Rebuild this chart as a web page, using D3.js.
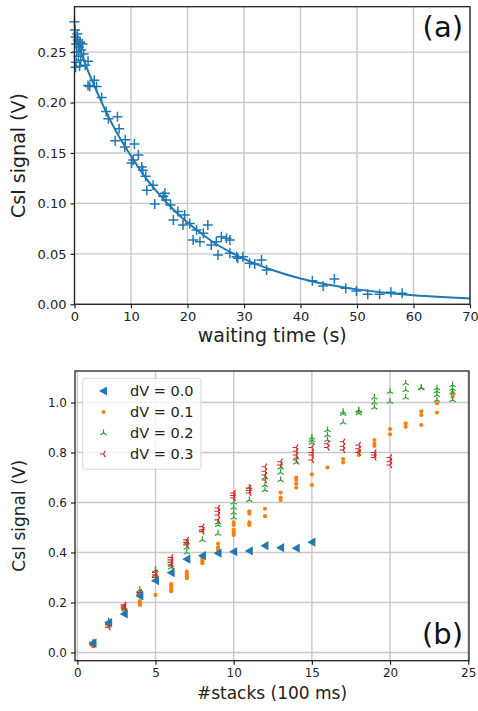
<!DOCTYPE html>
<html>
<head>
<meta charset="utf-8">
<script src="https://cdn.jsdelivr.net/npm/d3@7"></script>
<style>
  body { margin: 0; background: #fff; }
  svg { font-family: "DejaVu Sans", sans-serif; }
</style>
</head>
<body>
<script>
// ---- panel (a): decay of the CsI signal with waiting time ----
const waitTime = [0.0, 0.1, 0.2, 0.3, 0.5, 0.6, 0.4, 0.8, 1.0, 0.7, 1.2, 1.4, 0.3, 0.9, 1.1, 1.6, 0.2, 1.0,
  2.4, 1.9, 2.7, 3.5, 3.9, 2.4, 4.8, 5.6, 6.0, 7.6, 7.9, 7.2, 9.0, 10.6, 8.9, 11.3, 10.1, 10.4,
  11.9, 12.1, 12.6, 12.8, 13.9, 14.2, 15.7, 16.0, 16.2, 17.0, 17.5, 18.3, 19.5, 19.2, 20.4, 21.0,
  21.6, 22.2, 22.8, 23.6, 24.2, 25.4, 25.1, 26.0, 26.9, 27.5, 27.5, 28.7, 28.9, 29.8, 31.0, 31.9,
  33.1, 34.0, 42.1, 44.0, 46.0, 48.0, 49.9, 51.9, 54.0, 56.0, 58.0];
const waitSignal = [0.280, 0.272, 0.265, 0.258, 0.268, 0.262, 0.250, 0.255, 0.260, 0.246, 0.252, 0.258, 0.240, 0.236, 0.242, 0.248, 0.235, 0.259,
  0.241, 0.237, 0.216, 0.222, 0.216, 0.217, 0.205, 0.191, 0.184, 0.186, 0.174, 0.162, 0.163, 0.159, 0.156, 0.148, 0.140, 0.143,
  0.136, 0.133, 0.127, 0.113, 0.118, 0.0995, 0.107, 0.110, 0.1035, 0.0985, 0.0836, 0.092, 0.0886, 0.0787, 0.080, 0.0638,
  0.0737, 0.0621, 0.0704, 0.0787, 0.0588, 0.0489, 0.062, 0.067, 0.0655, 0.0506, 0.0638, 0.0472, 0.0456, 0.0472, 0.0407, 0.040,
  0.044, 0.034, 0.0234, 0.0182, 0.0251, 0.0159, 0.0132, 0.0099, 0.0099, 0.0119, 0.0109];

// fitted curve
const fitTime = [0, 2.5, 5, 7.5, 10, 12.5, 15, 17.5, 20, 22.5, 25, 27.5, 30, 35, 40, 45, 50, 55, 60, 65, 70];
const fitSignal = [0.267, 0.230, 0.198, 0.170, 0.147, 0.126, 0.109, 0.094, 0.081, 0.070, 0.060, 0.052, 0.045,
  0.034, 0.0255, 0.0193, 0.0148, 0.0115, 0.0090, 0.0072, 0.0058];

const xTicksA = [0, 10, 20, 30, 40, 50, 60, 70];
const yTicksA = [0, 0.05, 0.10, 0.15, 0.20, 0.25];

// ---- panel (b): signal vs number of stacks ----
const stacks = [1, 2, 3, 4, 5, 6, 7, 8, 9, 10, 11, 12, 13, 14, 15, 16, 17, 18, 19, 20, 21, 22, 23, 24];
const seriesNames = ["dV = 0.0", "dV = 0.1", "dV = 0.2", "dV = 0.3"];
const seriesColors = ["#1f77b4", "#ff7f0e", "#2ca02c", "#d62728"];

// one list of repeated readings per stack count
const signalDv0 = [[0.037], [0.119], [0.154], [0.226], [0.287], [0.319], [0.373], [0.387], [0.397], [0.403],
  [0.406], [0.427], [0.419], [0.417], [0.441]];
const signalDv1 = [[0.025, 0.03, 0.035], [0.11, 0.115, 0.12], [0.155, 0.16, 0.17], [0.19, 0.195, 0.2, 0.205],
  [0.23], [0.245, 0.255, 0.265, 0.273], [0.297, 0.305, 0.315, 0.323], [0.357, 0.365, 0.375, 0.383],
  [0.41, 0.42, 0.435], [0.47, 0.48, 0.49, 0.51, 0.52], [0.51, 0.52, 0.555, 0.565], [0.545, 0.575],
  [0.61, 0.62, 0.64], [0.66, 0.675, 0.69, 0.70], [0.67, 0.713], [0.74], [0.76, 0.774], [0.79, 0.803],
  [0.826, 0.835, 0.85], [0.873, 0.894], [0.903, 0.917], [0.91, 0.95, 0.965], [0.96, 0.997], [1.023, 1.03, 1.04]];
const signalDv2 = [[0.035, 0.04], [0.12, 0.125], [0.175, 0.18], [0.24, 0.25], [0.29, 0.31, 0.33], [0.34, 0.35],
  [0.40, 0.42, 0.44], [0.45], [0.475, 0.51, 0.52], [0.54, 0.56, 0.58, 0.60], [0.61, 0.66], [0.65, 0.67, 0.70],
  [0.69, 0.72, 0.74], [0.76, 0.78], [0.84, 0.85, 0.86], [0.85, 0.87, 0.89], [0.92, 0.955, 0.963],
  [0.957, 0.965, 0.97], [0.98, 1.0, 1.02], [1.003, 1.043], [1.02, 1.05, 1.077], [1.057, 1.06],
  [1.01, 1.03, 1.045, 1.057], [1.01, 1.04, 1.055, 1.07]];
const signalDv3 = [[0.03, 0.035, 0.04], [0.10, 0.11, 0.12], [0.178, 0.185, 0.19], [0.23, 0.24], [0.30, 0.31, 0.32],
  [0.35, 0.36, 0.37, 0.38], [0.43, 0.44, 0.45], [0.483, 0.49, 0.503], [0.53, 0.55, 0.565, 0.578],
  [0.618, 0.628, 0.638], [0.638, 0.648, 0.658], [0.69, 0.71, 0.725, 0.743], [0.75, 0.763],
  [0.77, 0.79, 0.805, 0.82], [0.77, 0.79, 0.80, 0.82], [0.82, 0.835], [0.81, 0.825, 0.843],
  [0.80, 0.815, 0.83], [0.78, 0.79, 0.80], [0.75, 0.765, 0.78]];

const xTicksB = [0, 5, 10, 15, 20, 25];
const yTicksB = [0.0, 0.2, 0.4, 0.6, 0.8, 1.0];

const width = 478;
const height = 711;
const grid_color = "#c8c8c8";
const spine_color = "#222";

const svg = d3.select("body")
    .append("svg")
    .attr("width", width)
    .attr("height", height);

// marker shapes
const plusPath = "M-5,0H5M0,-5V5";
const triLeftPath = "M-4.5,0L3.5,-4.6L3.5,4.6Z";
const triUpThin = "M0,0V-3.6M0,0L-3.1,1.8M0,0L3.1,1.8";
const triLeftThin = "M0,0H-3.6M0,0L1.8,-3.1M0,0L1.8,3.1";

// draw grid, ticks and frame for one panel
function drawFrame(x, y, xTicks, yTicks, yFormat, tickFont) {
    const [x0, x1] = x.range();
    const [y0, y1] = y.range();

    const g = svg.append("g");

    g.append("g")
        .selectAll("line.gx")
        .data(xTicks)
        .enter()
        .append("line")
        .attr("x1", d => x(d)).attr("x2", d => x(d))
        .attr("y1", y0).attr("y2", y1)
        .attr("stroke", grid_color)
        .attr("stroke-width", 1.4);

    g.append("g")
        .selectAll("line.gy")
        .data(yTicks)
        .enter()
        .append("line")
        .attr("x1", x0).attr("x2", x1)
        .attr("y1", d => y(d)).attr("y2", d => y(d))
        .attr("stroke", grid_color)
        .attr("stroke-width", 1.4);

    const xAxis = g.append("g")
        .attr("transform", "translate(0," + y0 + ")")
        .call(d3.axisBottom(x).tickValues(xTicks).tickSize(4).tickPadding(3.5).tickFormat(d3.format("d")));
    const yAxis = g.append("g")
        .attr("transform", "translate(" + x0 + ",0)")
        .call(d3.axisLeft(y).tickValues(yTicks).tickSize(4).tickPadding(4).tickFormat(d3.format(yFormat)));

    [xAxis, yAxis].forEach(a => {
        a.select(".domain").remove();
        a.selectAll(".tick line").attr("stroke", spine_color).attr("stroke-width", 1.2);
        a.selectAll(".tick text")
            .attr("fill", "#222")
            .style("font-size", tickFont + "px")
            .style("font-family", "DejaVu Sans");
    });

    return g;
}

function drawSpines(x, y) {
    const [x0, x1] = x.range();
    const [y0, y1] = y.range();
    svg.append("rect")
        .attr("x", x0).attr("y", y1)
        .attr("width", x1 - x0).attr("height", y0 - y1)
        .attr("fill", "none")
        .attr("stroke", spine_color)
        .attr("stroke-width", 1.3);
}

// ================= panel (a) =================
const xA = d3.scaleLinear().domain([0, 70]).range([74.5, 470]);
const yA = d3.scaleLinear().domain([0, 0.295]).range([304.3, 6.7]);

drawFrame(xA, yA, xTicksA, yTicksA, ".2f", 13);

const fitLine = d3.line()
    .x(d => xA(d[0]))
    .y(d => yA(d[1]))
    .curve(d3.curveMonotoneX);

svg.append("path")
    .datum(d3.zip(fitTime, fitSignal))
    .attr("d", fitLine)
    .attr("fill", "none")
    .attr("stroke", seriesColors[0])
    .attr("stroke-width", 2);

svg.append("g")
    .selectAll("path")
    .data(d3.zip(waitTime, waitSignal))
    .enter()
    .append("path")
    .attr("d", plusPath)
    .attr("transform", d => "translate(" + xA(d[0]) + "," + yA(d[1]) + ")")
    .attr("stroke", seriesColors[0])
    .attr("stroke-width", 1.5)
    .attr("fill", "none");

drawSpines(xA, yA);

svg.append("text")
    .attr("x", (74.5 + 470) / 2)
    .attr("y", 342)
    .attr("text-anchor", "middle")
    .style("font-size", "19px")
    .attr("fill", "#222")
    .text("waiting time (s)");

svg.append("text")
    .attr("transform", "translate(25," + (304.3 + 6.7) / 2 + ") rotate(-90)")
    .attr("text-anchor", "middle")
    .style("font-size", "19px")
    .attr("fill", "#222")
    .text("CsI signal (V)");

svg.append("text")
    .attr("x", 463)
    .attr("y", 37)
    .attr("text-anchor", "end")
    .style("font-size", "29px")
    .attr("fill", "#111")
    .text("(a)");

// ================= panel (b) =================
const xB = d3.scaleLinear().domain([-0.15, 25.05]).range([75, 469]);
const yB = d3.scaleLinear().domain([-0.033, 1.126]).range([660.7, 371]);

drawFrame(xB, yB, xTicksB, yTicksB, ".1f", 12);

// flatten repeated readings into points
function toPoints(sig) {
    const pts = [];
    sig.forEach((vals, i) => vals.forEach(v => pts.push([stacks[i], v])));
    return pts;
}

const allSeries = [signalDv0, signalDv1, signalDv2, signalDv3];

// dV = 0.1 dots
svg.append("g")
    .selectAll("circle")
    .data(toPoints(signalDv1))
    .enter()
    .append("circle")
    .attr("cx", d => xB(d[0]))
    .attr("cy", d => yB(d[1]))
    .attr("r", 2.1)
    .attr("fill", seriesColors[1]);

// dV = 0.2 thin up-tris
svg.append("g")
    .selectAll("path")
    .data(toPoints(signalDv2))
    .enter()
    .append("path")
    .attr("d", triUpThin)
    .attr("transform", d => "translate(" + xB(d[0]) + "," + yB(d[1]) + ")")
    .attr("stroke", seriesColors[2])
    .attr("stroke-width", 1.2)
    .attr("fill", "none");

// dV = 0.3 thin left-tris
svg.append("g")
    .selectAll("path")
    .data(toPoints(signalDv3))
    .enter()
    .append("path")
    .attr("d", triLeftThin)
    .attr("transform", d => "translate(" + xB(d[0]) + "," + yB(d[1]) + ")")
    .attr("stroke", seriesColors[3])
    .attr("stroke-width", 1.2)
    .attr("fill", "none");

// dV = 0.0 filled triangles
svg.append("g")
    .selectAll("path")
    .data(toPoints(signalDv0))
    .enter()
    .append("path")
    .attr("d", triLeftPath)
    .attr("transform", d => "translate(" + xB(d[0]) + "," + yB(d[1]) + ")")
    .attr("fill", seriesColors[0]);

drawSpines(xB, yB);

// legend
const legend = svg.append("g");
legend.append("rect")
    .attr("x", 82.7).attr("y", 378.3)
    .attr("width", 118.3).attr("height", 91)
    .attr("rx", 3)
    .attr("fill", "#fff")
    .attr("fill-opacity", 0.8)
    .attr("stroke", "#d5d5d5")
    .attr("stroke-width", 1);

seriesNames.forEach((name, i) => {
    const ly = 391 + i * 21;
    const mk = legend.append("g").attr("transform", "translate(103.5," + ly + ")");
    if (i === 0) {
        mk.append("path").attr("d", triLeftPath).attr("fill", seriesColors[0]);
    } else if (i === 1) {
        mk.append("circle").attr("r", 2.1).attr("fill", seriesColors[1]);
    } else {
        mk.append("path")
            .attr("d", i === 2 ? triUpThin : triLeftThin)
            .attr("stroke", seriesColors[i])
            .attr("stroke-width", 1.2)
            .attr("fill", "none");
    }
    legend.append("text")
        .attr("x", 130)
        .attr("y", ly + 5)
        .style("font-size", "14.5px")
        .attr("fill", "#222")
        .text(name);
});

svg.append("text")
    .attr("x", (75 + 469) / 2)
    .attr("y", 699)
    .attr("text-anchor", "middle")
    .style("font-size", "17px")
    .attr("fill", "#222")
    .text("#stacks (100 ms)");

svg.append("text")
    .attr("transform", "translate(25," + (660.7 + 371) / 2 + ") rotate(-90)")
    .attr("text-anchor", "middle")
    .style("font-size", "17px")
    .attr("fill", "#222")
    .text("CsI signal (V)");

svg.append("text")
    .attr("x", 463)
    .attr("y", 644)
    .attr("text-anchor", "end")
    .style("font-size", "29px")
    .attr("fill", "#111")
    .text("(b)");
</script>
</body>
</html>
